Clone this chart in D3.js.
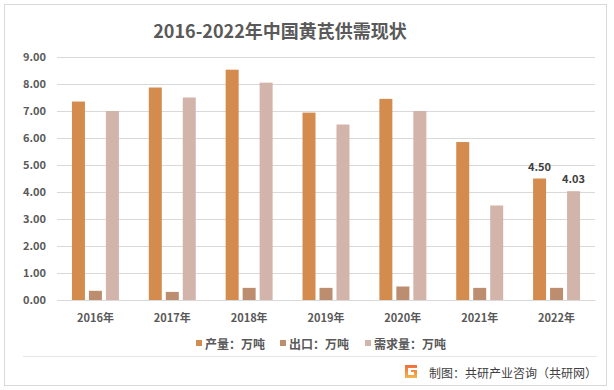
<!DOCTYPE html>
<html>
<head>
<meta charset="utf-8">
<script src="https://cdn.jsdelivr.net/npm/d3@7"></script>
<style>
    html, body { margin: 0; padding: 0; background: #fff; }
    svg { display: block; font-family: "Noto Sans CJK SC", "Noto Sans", sans-serif; }
</style>
</head>
<body>
<div id="chart-container"></div>
<script>
// years on the x axis
const YEARS = ["2016年", "2017年", "2018年", "2019年", "2020年", "2021年", "2022年"];

// series names as shown in the legend
const SERIES = ["产量：万吨", "出口：万吨", "需求量：万吨"];

// values (万吨)
const OUTPUT = [7.35, 7.87, 8.53, 6.94, 7.45, 5.85, 4.50];
const EXPORT = [0.34, 0.30, 0.45, 0.45, 0.50, 0.45, 0.45];
const DEMAND = [7.00, 7.50, 8.05, 6.50, 7.00, 3.50, 4.03];

// y axis ticks
const Y_TICKS = [0, 1, 2, 3, 4, 5, 6, 7, 8, 9];

// only 2022 carries data labels
const LABELLED = ["2022年"];

const COLORS = ["#D38C4E", "#BC8D6E", "#D3B4AA"];

function drawChart() {
    const W = 614, H = 390;
    const plot = { left: 57, right: 595, top: 57, bottom: 300 };

    const svg = d3.select("#chart-container")
        .append("svg")
        .attr("width", W)
        .attr("height", H);

    // outer frame
    svg.append("rect")
        .attr("x", 4.5).attr("y", 4.5)
        .attr("width", 602).attr("height", 381)
        .attr("fill", "#fff")
        .attr("stroke", "#D9D9D9");

    // title
    svg.append("text")
        .attr("x", 280).attr("y", 30)
        .attr("text-anchor", "middle")
        .attr("dominant-baseline", "central")
        .attr("font-size", 18)
        .attr("font-weight", "bold")
        .attr("fill", "#595959")
        .text("2016-2022年中国黄芪供需现状");

    // table of rows for the grouped bars
    const rows = YEARS.map((year, i) => ({
        year: year,
        values: [OUTPUT[i], EXPORT[i], DEMAND[i]]
    }));

    const x = d3.scaleBand()
        .domain(YEARS)
        .range([plot.left, plot.right])
        .padding(0);

    const x1 = d3.scaleBand()
        .domain(SERIES)
        .range([0, x.bandwidth()])
        .paddingInner(0.235)
        .paddingOuter(0.88);

    const y = d3.scaleLinear()
        .domain([0, 9])
        .range([plot.bottom, plot.top]);

    // gridlines + left tick labels
    const yAxis = svg.append("g")
        .attr("transform", `translate(${plot.left},0)`)
        .call(d3.axisLeft(y)
            .tickValues(Y_TICKS)
            .tickFormat(d3.format(".2f"))
            .tickSize(-(plot.right - plot.left))
            .tickPadding(11));
    yAxis.select(".domain").remove();
    yAxis.selectAll(".tick line").attr("stroke", "#D9D9D9");
    yAxis.selectAll(".tick text")
        .attr("font-size", 11)
        .attr("font-weight", "bold")
        .attr("fill", "#595959")
        .attr("font-family", "\"Noto Sans CJK SC\", sans-serif");

    // bars
    const groups = svg.append("g")
        .selectAll("g")
        .data(rows)
        .enter()
        .append("g")
        .attr("transform", d => `translate(${x(d.year)},0)`);

    groups.selectAll("rect")
        .data(d => d.values.map((v, k) => ({ key: SERIES[k], value: v, k: k })))
        .enter()
        .append("rect")
        .attr("x", d => x1(d.key))
        .attr("y", d => y(d.value))
        .attr("width", x1.bandwidth())
        .attr("height", d => y(0) - y(d.value))
        .attr("fill", d => COLORS[d.k]);

    // data labels for 2022 (output and demand)
    groups.filter(d => LABELLED.includes(d.year))
        .selectAll("text")
        .data(d => d.values.map((v, k) => ({ key: SERIES[k], value: v, k: k })).filter(d => d.k !== 1))
        .enter()
        .append("text")
        .attr("x", d => x1(d.key) + x1.bandwidth() / 2)
        .attr("y", d => y(d.value) - 13)
        .attr("text-anchor", "middle")
        .attr("dominant-baseline", "central")
        .attr("font-size", 11)
        .attr("font-weight", "bold")
        .attr("fill", "#404040")
        .text(d => d3.format(".2f")(d.value));

    // x axis
    const xAxis = svg.append("g")
        .attr("transform", `translate(0,${plot.bottom})`)
        .call(d3.axisBottom(x).tickSize(0).tickPadding(14));
    xAxis.select(".domain").attr("stroke", "#D9D9D9");
    xAxis.selectAll(".tick text")
        .attr("font-size", 11)
        .attr("font-weight", "bold")
        .attr("fill", "#595959")
        .attr("font-family", "\"Noto Sans CJK SC\", sans-serif");

    // legend
    const legendX = [196, 280, 365];
    const legend = svg.append("g")
        .selectAll("g")
        .data(SERIES)
        .enter()
        .append("g")
        .attr("transform", (d, i) => `translate(${legendX[i]},343)`);
    legend.append("rect")
        .attr("x", 0).attr("y", -3)
        .attr("width", 6).attr("height", 6)
        .attr("fill", (d, i) => COLORS[i]);
    legend.append("text")
        .attr("x", 9).attr("y", 0)
        .attr("dominant-baseline", "central")
        .attr("font-size", 12)
        .attr("font-weight", "bold")
        .attr("fill", "#595959")
        .text(d => d);

    // separator above the source line
    svg.append("line")
        .attr("x1", 23).attr("x2", 597)
        .attr("y1", 356.5).attr("y2", 356.5)
        .attr("stroke", "#E6E6E6");

    // source logo
    const grad = svg.append("defs").append("linearGradient")
        .attr("id", "logo-grad")
        .attr("x1", 0).attr("y1", 0).attr("x2", 0).attr("y2", 1);
    grad.append("stop").attr("offset", 0).attr("stop-color", "#F26B3A");
    grad.append("stop").attr("offset", 1).attr("stop-color", "#F6B44B");
    const logo = svg.append("g").attr("transform", "translate(405,365)");
    logo.append("path")
        .attr("d", "M0,0 H12 V3 H3 V10 H9 V7 H6 V5 H12 V13 H0 Z")
        .attr("fill", "url(#logo-grad)");

    // source text
    svg.append("text")
        .attr("x", 597).attr("y", 372)
        .attr("text-anchor", "end")
        .attr("dominant-baseline", "central")
        .attr("font-size", 12)
        .attr("fill", "#404040")
        .text("制图：共研产业咨询（共研网）");
}

window.onload = () => {
    drawChart();
};
</script>
</body>
</html>
